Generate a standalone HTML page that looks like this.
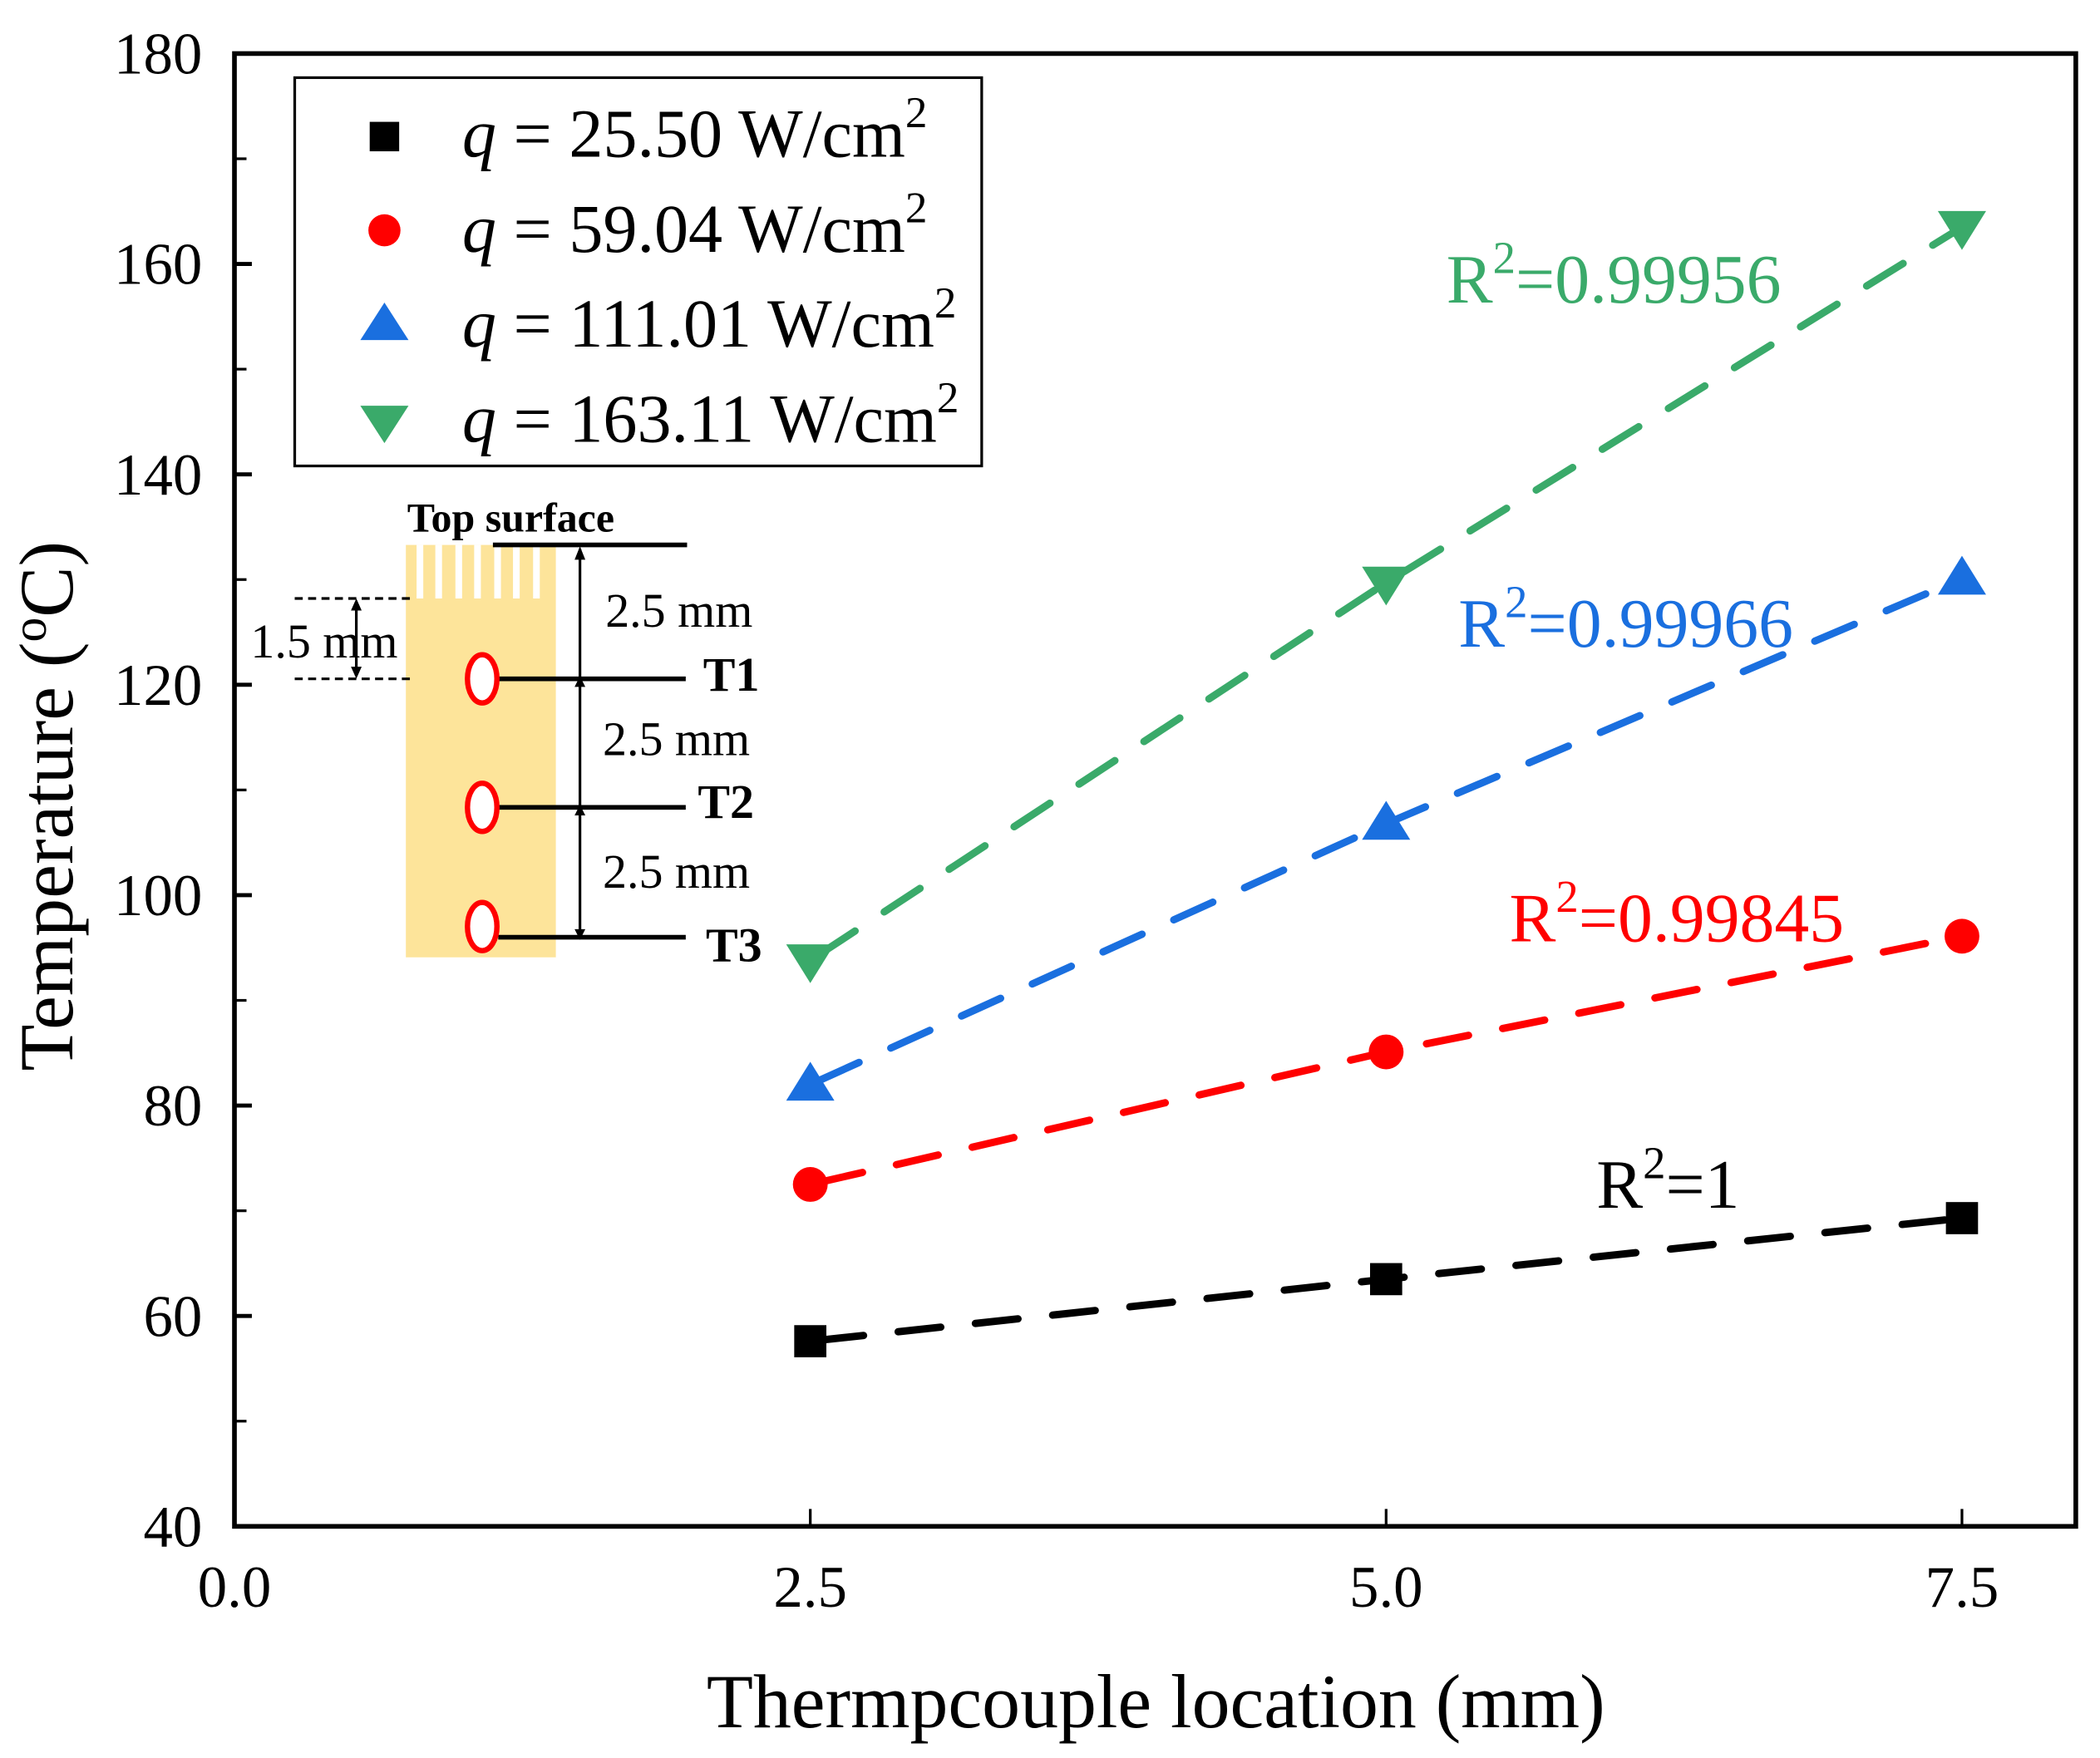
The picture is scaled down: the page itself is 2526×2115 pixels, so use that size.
<!DOCTYPE html>
<html><head><meta charset="utf-8"><style>
html,body{margin:0;padding:0;background:#fff}
svg{display:block}
text{font-family:"Liberation Serif","Times New Roman",serif}
</style></head><body>
<svg id="chart" width="2526" height="2115" viewBox="0 0 1568 1313" xmlns="http://www.w3.org/2000/svg">
<g id="series"></g>
<rect x="175" y="40" width="1375" height="1100" fill="none" stroke="#000" stroke-width="3.5"/>
<g id="axes"></g>
<text x="863" y="1290" font-size="57" text-anchor="middle">Thermpcouple location (mm)</text>
<text transform="translate(54,602) rotate(-90)" font-size="57" text-anchor="middle">Temperature (<tspan font-size="37" dy="-20">o</tspan><tspan dy="20">C)</tspan></text>

<g>
<rect x="220" y="58" width="513" height="290" fill="#fff" stroke="#000" stroke-width="2"/>
<rect x="276" y="91" width="22" height="22" fill="#000"/>
<circle cx="287" cy="172" r="12" fill="#ff0000"/>
<polygon points="287,226 305,254 269,254" fill="#1a6fdf"/>
<polygon points="269,303 305,303 287,331" fill="#3aaa6a"/>
<text x="345" y="117" font-size="51"><tspan font-style="italic">q</tspan> = 25.50 W/cm<tspan font-size="33" dy="-22">2</tspan></text>
<text x="345" y="188" font-size="51"><tspan font-style="italic">q</tspan> = 59.04 W/cm<tspan font-size="33" dy="-22">2</tspan></text>
<text x="345" y="259" font-size="51"><tspan font-style="italic">q</tspan> = 111.01 W/cm<tspan font-size="33" dy="-22">2</tspan></text>
<text x="345" y="330" font-size="51"><tspan font-style="italic">q</tspan> = 163.11 W/cm<tspan font-size="33" dy="-22">2</tspan></text>
</g>

<g font-size="52">
<text x="1080" y="226" fill="#3aaa6a">R<tspan font-size="34" dy="-22">2</tspan><tspan dy="22">=0.99956</tspan></text>
<text x="1089" y="483" fill="#1a6fdf">R<tspan font-size="34" dy="-22">2</tspan><tspan dy="22">=0.99966</tspan></text>
<text x="1127" y="703" fill="#ff0000">R<tspan font-size="34" dy="-22">2</tspan><tspan dy="22">=0.99845</tspan></text>
<text x="1192" y="902" fill="#000">R<tspan font-size="34" dy="-22">2</tspan><tspan dy="22">=1</tspan></text>
</g>

<g>
<rect x="303" y="407" width="112" height="308" fill="#fde49a"/>
<g fill="#fff">
<rect x="311" y="407" width="5" height="40"/><rect x="325" y="407" width="5" height="40"/><rect x="340" y="407" width="5" height="40"/><rect x="354" y="407" width="5" height="40"/><rect x="369" y="407" width="5" height="40"/><rect x="383" y="407" width="5" height="40"/><rect x="398" y="407" width="5" height="40"/>
</g>
<text x="304" y="397" font-size="31" font-weight="bold">Top surface</text>
<g stroke="#000" stroke-width="3.5">
<line x1="368" y1="407" x2="513" y2="407"/>
<line x1="372" y1="507" x2="512" y2="507"/>
<line x1="372" y1="603" x2="512" y2="603"/>
<line x1="372" y1="700" x2="512" y2="700"/>
</g>
<line x1="433" y1="410" x2="433" y2="700" stroke="#000" stroke-width="2"/>
<g fill="#000"><polygon points="433,408 429,418 437,418"/><polygon points="433,505 429,513 437,513"/><polygon points="433,601 429,609 437,609"/><polygon points="433,702 429,694 437,694"/></g>
<g stroke="#000" stroke-width="2" stroke-dasharray="6,4"><line x1="220" y1="447" x2="308" y2="447"/><line x1="220" y1="507" x2="308" y2="507"/></g>
<line x1="266" y1="450" x2="266" y2="504" stroke="#000" stroke-width="2"/>
<polygon points="266,447 262,456 270,456" fill="#000"/><polygon points="266,507 262,498 270,498" fill="#000"/>
<g fill="#fff" stroke="#ff0000" stroke-width="4">
<ellipse cx="360" cy="507" rx="11" ry="18"/><ellipse cx="360" cy="603" rx="11" ry="18"/><ellipse cx="360" cy="692" rx="11" ry="18"/>
</g>
<g font-size="36"><text x="187" y="491">1.5 mm</text><text x="452" y="468">2.5 mm</text><text x="450" y="564">2.5 mm</text><text x="450" y="663">2.5 mm</text></g>
<g font-size="36" font-weight="bold"><text x="525" y="516">T1</text><text x="521" y="611">T2</text><text x="527" y="718">T3</text></g>
</g>
</svg>
<script>
const xValues = [2.5, 5.0, 7.5];
const seriesBlack = [57.6, 63.5, 69.3];
const seriesRed = [72.5, 85.1, 96.1];
const seriesBlue = [82.0, 106.8, 130.1];
const seriesGreen = [93.8, 129.7, 163.5];
const xTicks = [0.0, 2.5, 5.0, 7.5];
const xTickLabels = ["0.0", "2.5", "5.0", "7.5"];
const yTicks = [40, 60, 80, 100, 120, 140, 160, 180];
const yMinor = [50, 70, 90, 110, 130, 150, 170];

const NS = "http://www.w3.org/2000/svg";
function X(v){ return 175 + v * 172; }
function Y(v){ return 1140 - (v - 40) / 140 * 1100; }
function mk(tag, attrs){ const e = document.createElementNS(NS, tag); for (const k in attrs) e.setAttribute(k, attrs[k]); return e; }

const axes = document.getElementById('axes');
xTicks.forEach((t, i) => {
  if (t > 0) {
    const l = mk('line', {x1: X(t), y1: 1140, x2: X(t), y2: 1127, stroke: '#000', 'stroke-width': 2});
    
    
    axes.appendChild(l);
  }
  const tx = mk('text', {x: X(t), y: 1200, 'font-size': 44, 'text-anchor': 'middle'});
  
  
  tx.textContent = xTickLabels[i];
  axes.appendChild(tx);
});
yTicks.forEach(t => {
  const l = mk('line', {x1: 175, y1: Y(t), x2: 188, y2: Y(t), stroke: '#000', 'stroke-width': 3});
  
  
  axes.appendChild(l);
  const tx = mk('text', {x: 151, y: Y(t) + 15, 'font-size': 44, 'text-anchor': 'end'});
  
  
  tx.textContent = String(t);
  axes.appendChild(tx);
});
yMinor.forEach(t => {
  const l = mk('line', {x1: 175, y1: Y(t), x2: 184, y2: Y(t), stroke: '#000', 'stroke-width': 2});
  
  
  axes.appendChild(l);
});

const layer = document.getElementById('series');
const defs = [
  {name: 'black', vals: seriesBlack, color: '#000000', shape: 'square'},
  {name: 'red', vals: seriesRed, color: '#ff0000', shape: 'circle'},
  {name: 'blue', vals: seriesBlue, color: '#1a6fdf', shape: 'up'},
  {name: 'green', vals: seriesGreen, color: '#3aaa6a', shape: 'down'}
];
defs.forEach(s => {
  const pts = xValues.map((x, i) => X(x) + ',' + Y(s.vals[i])).join(' ');
  const pl = mk('polyline', {points: pts, fill: 'none', stroke: s.color, 'stroke-width': 5.5, 'stroke-dasharray': '32,26', 'stroke-linecap': 'round', 'stroke-dashoffset': '-8'});
  
  
  layer.appendChild(pl);
  xValues.forEach((x, i) => {
    const cx = X(x), cy = Y(s.vals[i]);
    let m;
    if (s.shape === 'square') m = mk('rect', {x: cx - 12, y: cy - 12, width: 24, height: 24, fill: s.color});
    else if (s.shape === 'circle') m = mk('circle', {cx: cx, cy: cy, r: 13, fill: s.color});
    else if (s.shape === 'up') m = mk('polygon', {points: `${cx},${cy-17} ${cx+18},${cy+12} ${cx-18},${cy+12}`, fill: s.color});
    else m = mk('polygon', {points: `${cx-18},${cy-12} ${cx+18},${cy-12} ${cx},${cy+17}`, fill: s.color});
    
    
    layer.appendChild(m);
  });
});
</script>
</body></html>
